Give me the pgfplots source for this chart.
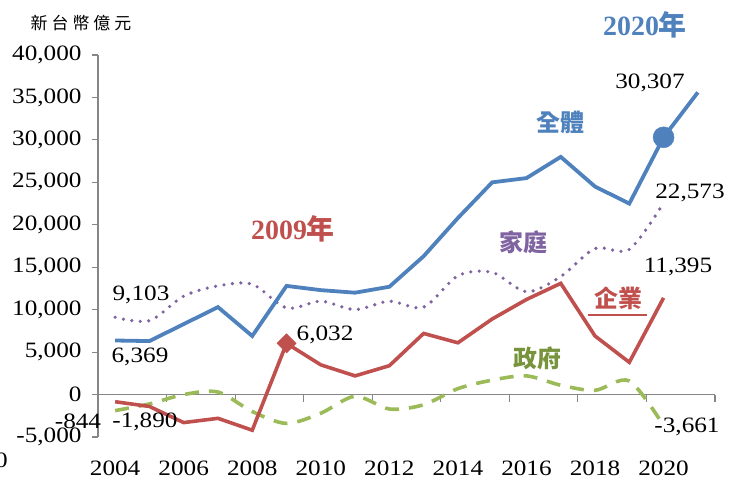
\documentclass[border=0pt]{standalone}
\usepackage{pgfplots}
\pgfplotsset{compat=1.18}
\usepackage{fontspec}
\setmainfont{Liberation Serif}
\newfontfamily\lab{Liberation Serif}[FakeStretch=1.15]
\newfontfamily\cjk{Noto Sans CJK TC}
\definecolor{cblue}{HTML}{4F81BD}
\definecolor{cred}{HTML}{C0504D}
\definecolor{cgreen}{HTML}{9BBB59}
\definecolor{cgreentxt}{HTML}{77933C}
\definecolor{cpurple}{HTML}{8064A2}
\definecolor{axisgray}{HTML}{868686}
\begin{document}
\begin{tikzpicture}[font=\lab\fontsize{22}{26}\selectfont]
\path[use as bounding box] (0bp,0bp) rectangle (739bp,-482bp);
\begin{axis}[
  at={(98bp,-437bp)}, anchor=south west,
  scale only axis, width=617bp, height=382bp,
  xmin=2003.5, xmax=2021.5, ymin=-5000, ymax=40000,
  axis lines=left,
  x axis line style={draw=none},
  y axis line style={draw=axisgray, line width=1.2bp, -},
  xtick={2004,2006,2008,2010,2012,2014,2016,2018,2020},
  xticklabels={2004,2006,2008,2010,2012,2014,2016,2018,2020},
  x tick style={draw=none},
  xticklabel style={yshift=-14bp},
  ytick={-5000,0,5000,10000,15000,20000,25000,30000,35000,40000},
  y tick style={draw=axisgray, line width=1.2bp},
  ytick pos=left,
  tick align=outside,
  major tick length=6bp,
  scaled y ticks=false,
  yticklabel style={/pgf/number format/1000 sep={,}, xshift=-7bp},
  /pgf/number format/assume math mode=true,
  clip=false,
]
\draw[axisgray, line width=1.6bp] (axis cs:2003.5,0) -- (axis cs:2021.5,0);
\draw[axisgray, line width=1.2bp] (axis cs:2005.5,0) -- ([yshift=-7bp]axis cs:2005.5,0);
\draw[axisgray, line width=1.2bp] (axis cs:2007.5,0) -- ([yshift=-7bp]axis cs:2007.5,0);
\draw[axisgray, line width=1.2bp] (axis cs:2009.5,0) -- ([yshift=-7bp]axis cs:2009.5,0);
\draw[axisgray, line width=1.2bp] (axis cs:2011.5,0) -- ([yshift=-7bp]axis cs:2011.5,0);
\draw[axisgray, line width=1.2bp] (axis cs:2013.5,0) -- ([yshift=-7bp]axis cs:2013.5,0);
\draw[axisgray, line width=1.2bp] (axis cs:2015.5,0) -- ([yshift=-7bp]axis cs:2015.5,0);
\draw[axisgray, line width=1.2bp] (axis cs:2017.5,0) -- ([yshift=-7bp]axis cs:2017.5,0);
\draw[axisgray, line width=1.2bp] (axis cs:2019.5,0) -- ([yshift=-7bp]axis cs:2019.5,0);
\draw[axisgray, line width=1.2bp] (axis cs:2021.5,0) -- ([yshift=-7bp]axis cs:2021.5,0);
% 政府
\addplot[cgreen, line width=3.6bp, dash pattern=on 14bp off 10bp, smooth, tension=0.5] coordinates {
(2004,-1890) (2005,-1100) (2006,0) (2007,300) (2008,-2000) (2009,-3400) (2010,-2200)
(2011,-200) (2012,-1700) (2013,-1200) (2014,700) (2015,1700) (2016,2200) (2017,1100)
(2018,500) (2019,1600) (2020,-3661)};
% 企業
\addplot[cred, line width=3.6bp] coordinates {
(2004,-844) (2005,-1400) (2006,-3300) (2007,-2800) (2008,-4200) (2009,6032) (2010,3500)
(2011,2200) (2012,3400) (2013,7200) (2014,6100) (2015,8900) (2016,11200) (2017,13100)
(2018,6900) (2019,3800) (2020,11395)};
% 家庭
\addplot[cpurple, line width=3.6bp, dash pattern=on 0pt off 8.5bp, line cap=round, smooth, tension=0.5] coordinates {
(2004,9103) (2005,8700) (2006,11600) (2007,12800) (2008,13000) (2009,10200) (2010,11000)
(2011,10000) (2012,11000) (2013,10300) (2014,14000) (2015,14400) (2016,12100) (2017,13900)
(2018,17200) (2019,17100) (2020,22573)};
% 全體
\addplot[cblue, line width=3.8bp] coordinates {
(2004,6369) (2005,6300) (2006,8300) (2007,10300) (2008,6900) (2009,12800) (2010,12300)
(2011,12000) (2012,12700) (2013,16300) (2014,20800) (2015,25000) (2016,25500) (2017,28000)
(2018,24500) (2019,22500) (2020,30307) (2021,35600)};
\addplot[only marks, mark=*, mark size=10.5bp, cblue] coordinates {(2020,30307)};
\addplot[only marks, mark=square*, mark size=6.8bp, mark options={rotate=45}, cred] coordinates {(2009,6032)};
\end{axis}
% annotations (pixel positions)
\node at (81bp,-23bp) {\fontsize{17}{20}\selectfont\cjk 新\hspace{4bp}台\hspace{4bp}幣\hspace{4bp}億\hspace{4bp}元};
\node[text=cblue] at (645bp,-25bp) {\rmfamily\fontsize{28}{30}\selectfont\bfseries 2020{\cjk 年}};
\node[text=cred] at (293bp,-229bp) {\rmfamily\fontsize{28}{30}\selectfont\bfseries 2009{\cjk 年}};
\node[text=cblue] at (560bp,-122bp) {\fontsize{24}{28}\selectfont\cjk\bfseries 全體};
\node[text=cpurple] at (523bp,-242bp) {\fontsize{24}{28}\selectfont\cjk\bfseries 家庭};
\node[text=cred] at (618bp,-298bp) {\fontsize{24}{28}\selectfont\cjk\bfseries 企業};
\draw[cred, line width=1.5bp] (588bp,-315bp) -- (647bp,-315bp);
\node[text=cgreentxt] at (537bp,-358bp) {\fontsize{24}{28}\selectfont\cjk\bfseries 政府};
\node at (141bp,-295bp) {9,103};
\node at (140bp,-357bp) {6,369};
\node at (78bp,-421bp) {-844};
\node at (145bp,-422bp) {-1,890};
\node at (325bp,-335bp) {6,032};
\node at (650bp,-83bp) {30,307};
\node at (690bp,-193bp) {22,573};
\node at (678bp,-267bp) {11,395};
\node at (687bp,-427bp) {-3,661};
\node[anchor=east, inner sep=0pt] at (8bp,-462bp) {-10,000};
\end{tikzpicture}
\end{document}
